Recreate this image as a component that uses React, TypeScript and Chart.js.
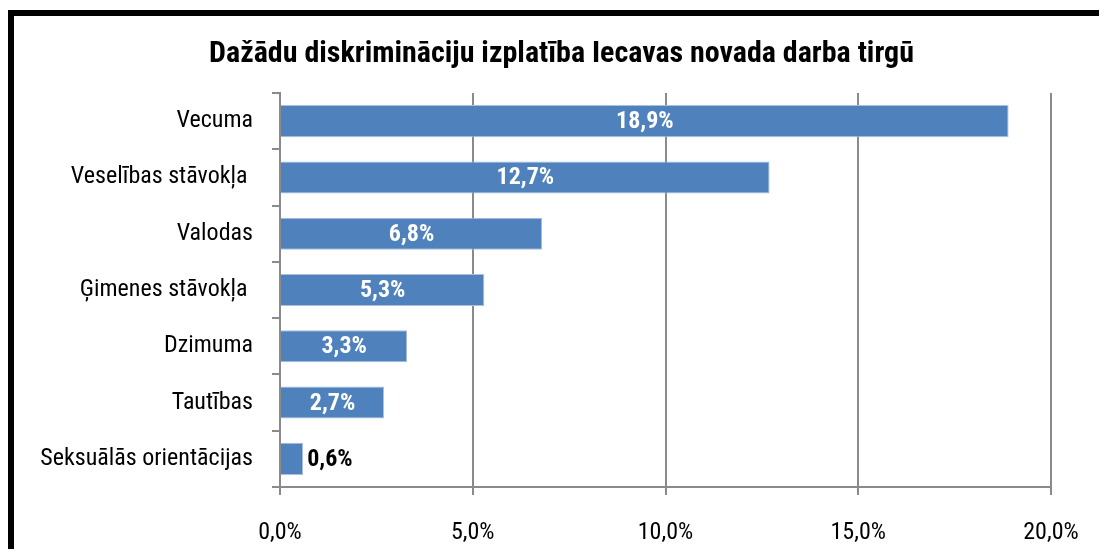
import React, { useEffect, useRef } from "react";
import { Chart, registerables } from "chart.js";

Chart.register(...registerables);

const categories = [
  "Vecuma",
  "Veselības stāvokļa ",
  "Valodas",
  "Ģimenes stāvokļa ",
  "Dzimuma",
  "Tautības",
  "Seksuālās orientācijas",
];
const values = [18.9, 12.7, 6.8, 5.3, 3.3, 2.7, 0.6];
const titleText = "Dažādu diskrimināciju izplatība Iecavas novada darba tirgū";
const xMin = 0;
const xMax = 20;
const xStep = 5;

const FONT = '"Liberation Sans Narrow", "Arial Narrow", "Roboto Condensed", sans-serif';
const GRID = "#8a8a8a";
const BAR = "#4f81bd";

const fmt = (v: number) => v.toFixed(1).replace(".", ",") + "%";

const titlePlugin = {
  id: "customTitle",
  afterDraw(chart: any) {
    const ctx = chart.ctx;
    ctx.save();
    ctx.font = `bold 30px ${FONT}`;
    ctx.fillStyle = "#000";
    ctx.textAlign = "center";
    ctx.textBaseline = "alphabetic";
    ctx.fillText(titleText, chart.width / 2 + 1, 46);
    ctx.restore();
  },
};

const labelPlugin = {
  id: "barLabels",
  afterDatasetsDraw(chart: any) {
    const ctx = chart.ctx;
    const meta = chart.getDatasetMeta(0);
    ctx.save();
    ctx.font = `bold 24px ${FONT}`;
    ctx.textBaseline = "middle";
    meta.data.forEach((bar: any, i: number) => {
      const text = fmt(values[i]);
      const w = ctx.measureText(text).width;
      const barW = bar.x - bar.base;
      if (barW > w + 8) {
        ctx.fillStyle = "#fff";
        ctx.textAlign = "center";
        ctx.fillText(text, (bar.x + bar.base) / 2, bar.y + 1);
      } else {
        ctx.fillStyle = "#000";
        ctx.textAlign = "left";
        ctx.fillText(text, bar.x + 4, bar.y + 1);
      }
    });
    ctx.restore();
  },
};

export default function App() {
  const ref = useRef<HTMLCanvasElement>(null);
  useEffect(() => {
    if (!ref.current) return;
    const chart = new Chart(ref.current, {
      type: "bar",
      data: {
        labels: categories,
        datasets: [
          {
            data: values,
            backgroundColor: BAR,
            borderColor: "#a9c0df",
            borderWidth: 1,
            barPercentage: 0.57,
            categoryPercentage: 1,
          },
        ],
      },
      options: {
        indexAxis: "y",
        animation: false,
        responsive: true,
        maintainAspectRatio: false,
        layout: { padding: { top: 77, right: 56, left: 0, bottom: 0 } },
        plugins: {
          legend: { display: false },
          title: { display: false },
          tooltip: { enabled: false },
        },
        scales: {
          x: {
            min: xMin,
            max: xMax,
            ticks: {
              stepSize: xStep,
              callback: (v: any) => fmt(Number(v)),
              color: "#000",
              font: { family: FONT, size: 24 },
              padding: 24,
              maxRotation: 0,
            },
            grid: {
              color: GRID,
              lineWidth: 2,
              tickLength: 8,
              tickColor: GRID,
            },
            border: { color: GRID, width: 2 },
            afterFit: (scale: any) => {
              scale.height = 64;
            },
          },
          y: {
            ticks: {
              color: "#000",
              font: { family: FONT, size: 24 },
              padding: 19,
              autoSkip: false,
            },
            grid: {
              drawOnChartArea: false,
              tickLength: 8,
              color: GRID,
              lineWidth: 2,
              offset: true,
            },
            border: { color: GRID, width: 2 },
            afterFit: (scale: any) => {
              scale.width = 266;
            },
          },
        },
      },
      plugins: [titlePlugin, labelPlugin],
    });
    return () => chart.destroy();
  }, []);

  return (
    <div
      style={{
        position: "relative",
        top: 2,
        width: 1099,
        height: 541,
        borderTop: "6px solid #000",
        borderLeft: "6px solid #000",
        boxSizing: "border-box",
        background: "#fff",
      }}
    >
      <div style={{ position: "relative", width: 1093, height: 535 }}>
        <canvas ref={ref} />
      </div>
    </div>
  );
}
